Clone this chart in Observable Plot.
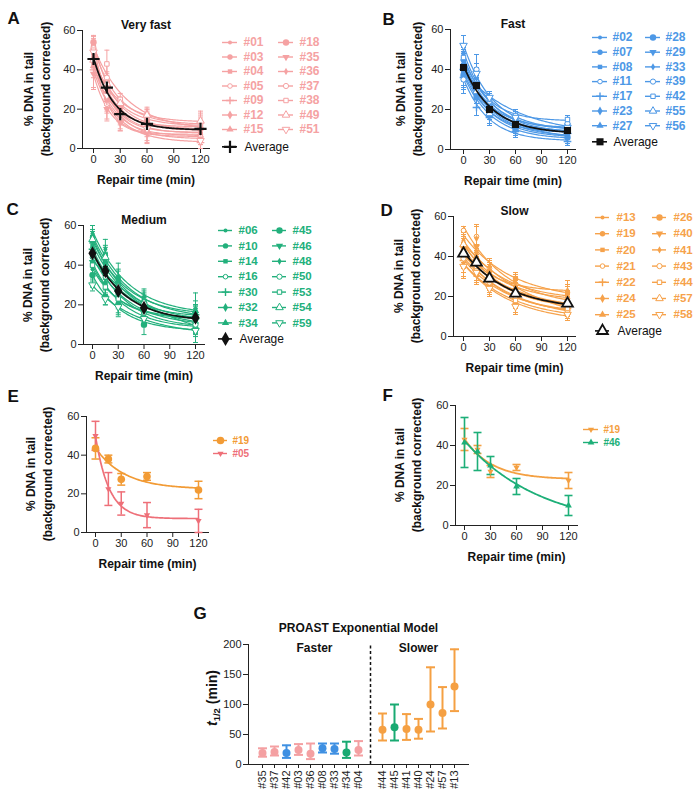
<!DOCTYPE html>
<html><head><meta charset="utf-8">
<script src="https://cdn.jsdelivr.net/npm/d3@7"></script>
<script src="https://cdn.jsdelivr.net/npm/@observablehq/plot@0.6"></script>
<style>
body{margin:0;background:#fff;}
#root{position:relative;width:695px;height:795px;background:#fff;font-family:"Liberation Sans",Arial,sans-serif;overflow:hidden;}
#root svg{position:absolute;}
.ylab{position:absolute;transform:translate(-50%,-50%) rotate(-90deg);font:bold 12px "Liberation Sans",Arial,sans-serif;color:#111;white-space:nowrap;text-align:center;line-height:16.5px;}
</style></head><body><div id="root"></div>
<script>
// ---------------- DATA ----------------
const timesMin = [0, 15, 30, 60, 120];

// A: Very fast
const aIds = ["#01","#03","#04","#05","#09","#12","#15","#18","#35","#36","#37","#38","#49","#51"];
const aMeans = [[48,30,20,13,9],[52,28,18,12,7],[44,25,16,10,6],[50,22.5,15,9,6],[40,24,14,8,3],[46,32,22,15,12],[42,26,19,13,11],
  [54,34,21,14,10],[38,20,13,9,5],[47,29,18,11,8],[51,36,24,16,13],[50,43,25,17,12],[45,33,23,17,14],[49,27,17,10,4]];
const aErrs = [[5,4,4,3,4],[4,6,3,4,3],[6,5,4,3,4],[7.5,8.5,6,6.5,6],[9,6,4,5,3],[5,5,4,4,5],[6,7,5,3,4],
  [3,5,3,4,4],[8,5,4,5,3],[5,4,3,3,4],[4,7,2,4,5],[5,7,3,3,4],[4,5,3,4,5],[5,5,4,4,4]];
const aAvg = [45.5,31,17.5,12.5,10];
const aAvgErr = [0,0,0,0,0];

// B: Fast
const bIds = ["#02","#07","#08","#11","#17","#23","#27","#28","#29","#33","#39","#42","#55","#56"];
const bMeans = [[43,30,21,13,9],[38,28,18,11,7],[45,35,22,15,11],[40,34,20,12,8],[36,21,16,9,4],[48,36,23,14,10],[42,32,20,13,10],
  [37,26,17,10,6],[44,33,21,14,12],[39,31,19,11,8],[35,40,24,16,13],[46,33,25,17,15],[41,29,18,12,9],[52,38,26,16,11]];
const bErrs = [[5,4,3,3,3],[4,5,3,4,3],[6,4,4,3,4],[8,6,3,4,3],[8,4,4,3,2],[5,5,3,3,4],[4,4,3,4,3],
  [6,5,4,4,3],[5,4,3,3,4],[4,5,4,3,3],[5,7.5,4,4,4],[4,5,3,3,2],[6,4,3,4,3],[5,5,3,3,3]];
const bAvg = [41,32,20,12.5,9.5];
const bAvgErr = [0,0,0,0,0];

// C: Medium
const cIds = ["#06","#10","#14","#16","#30","#32","#34","#45","#46","#48","#50","#53","#54","#59"];
const cMeans = [[38,30,22,17,14],[54,45,33,22,16],[50,40,30,19,12],[44,34,25,18,11],[48,38,27,20,15],[41,31,21,15,9],[52,42,32,22,17],
  [35,24,20,10,8],[41.5,37,30,19.5,10],[56,48,34,24,18],[46,36,24,16,10],[40,29,23,17,13],[53,44,29,21,14],[30,23,19,13,7]];
const cErrs = [[6,5,4,4,5],[6,5,5,4,4],[5,6,4,5,5],[5,4,5,4,4],[7,5,4,4,5],[5,6,5,4,4],[5,4,5,5,5],
  [6,4,6,5,4],[12.5,9.5,4.5,4,4.5],[4,5,7,4,8],[6,5,4,4,4],[5,4,4,4,5],[5,5,5,4,6],[3,3,4,3,6]];
const cAvg = [46,37,27,18.5,13.5];
const cAvgErr = [0,2.2,0,0,0];

// D: Slow
const dIds = ["#13","#19","#20","#21","#22","#24","#25","#26","#40","#41","#43","#44","#57","#58"];
const dMeans = [[45,40,31,24,20],[43.5,38,27.5,29,22],[40,36,30,22,17],[53,50,34,26,19],[38,33,26,19,14],[47,42,33,25,21],[36,31,25,17,12],
  [42,37,29,21,16],[44,45,32,23,15],[48,49,35,27,23],[39,34,27,20,13],[41,35,28,18,14],[46,39,30,22,17],[35,32,24,15,11]];
const dErrs = [[5,4,4,4,5],[5.5,2,3,2,4],[4,5,4,5,4],[2,6,4,4,4],[6,5,4,5,4],[5,4,4,5,5],[6,5,4,5,3],
  [4,5,4,4,4],[5,5,4,5,4],[5,6,4,5,5],[5,4,4,4,4],[4,4,3,4,3],[5,5,4,4,4],[6,5,4,4,3]];
const dAvg = [41.5,37,29,21.5,16.5];
const dAvgErr = [0,0,0,0,0];

// E
const e19Means = [43.5,38,27.5,29,22];
const e19Errs  = [5.5,2,3,2,4.5];
const e05Means = [50,22.5,15,9,6];
const e05Errs  = [7.5,8.5,6,6.5,6];
// F
const f19Means = [43,38,27,29,22.5];
const f19Errs  = [5.5,2,3,1.5,4];
const f46Means = [41.5,37,30,19.5,10];
const f46Errs  = [12.5,9.5,4.5,4,5];

// G: PROAST half-lives
const gIds   = ["#35","#37","#42","#03","#36","#08","#33","#34","#04","#44","#45","#41","#40","#24","#57","#13"];
const gHalf  = [19,21,19,24,18,27,26,20,24,58,62,59,58,100,86,130];
const gLow   = [13,15,11,16,9,20,18,11,15,40,40,41,43,55,60,89];
const gHigh  = [27,30,32,34,35,35,35,38,39,85,100,84,76,162,129,192];
const gGroup = ["Very fast","Very fast","Fast","Very fast","Very fast","Fast","Fast","Medium","Very fast","Slow","Medium","Slow","Slow","Slow","Slow","Slow"];
const gFasterCount = 9;

// ---------------- STYLE ----------------
const FONT = '"Liberation Sans", Arial, sans-serif';
const PINK = "#f5a2a3", BLUE = "#4d98e6", GREEN = "#22b07c", ORANGE = "#f6a24b";
const groupColor = {"Very fast": "#f4a0a2", "Fast": "#3f90e2", "Medium": "#19aa72", "Slow": "#f5a043"};
const symbolCycle = [
  {symbol:"circle", r:2}, {symbol:"circle", r:2.7}, {symbol:"square", r:2.5}, {symbol:"circle", r:2.3, open:true},
  {symbol:"plus", r:2.6}, {symbol:"diamond", r:2.7}, {symbol:"triangle", r:2.7}, {symbol:"circle", r:3.2},
  {symbol:"triangle", r:2.7, rotate:180}, {symbol:"diamond", r:2.2}, {symbol:"circle", r:2.6, open:true},
  {symbol:"square", r:2.5, open:true}, {symbol:"triangle", r:2.8, open:true}, {symbol:"triangle", r:2.8, open:true, rotate:180}
];
const capSymbol = {draw(ctx, size){ const h = Math.sqrt(size / Math.PI); ctx.moveTo(-h, 0); ctx.lineTo(h, 0); }};

const root = document.getElementById("root");
function place(svg, left, top){ svg.style.left = left + "px"; svg.style.top = top + "px"; svg.style.background = "transparent"; root.appendChild(svg); }

// one-phase exponential decay fit (least squares, grid over rate)
function fitDecay(ys){
  let best = null;
  for (let i = 0; i <= 600; i++){
    const k = Math.exp(Math.log(0.002) + (Math.log(0.5) - Math.log(0.002)) * i / 600);
    const xs = timesMin.map(t => Math.exp(-k * t));
    const mx = d3.mean(xs), my = d3.mean(ys);
    let sxy = 0, sxx = 0;
    xs.forEach((x, j) => { sxy += (x - mx) * (ys[j] - my); sxx += (x - mx) ** 2; });
    const A = sxy / sxx, P = my - A * mx;
    const sse = d3.sum(ys, (y, j) => (y - (P + A * xs[j])) ** 2);
    if (!best || sse < best.sse) best = {k, A, P, sse};
  }
  return best;
}
function fitCurve(ys){ const f = fitDecay(ys); return d3.range(0, 120.01, 1.5).map(t => ({t, y: f.P + f.A * Math.exp(-f.k * t)})); }

function dotMark(data, spec, color, x, y){
  const strokeOnly = spec.symbol === "plus";
  return Plot.dot(data, {x, y, symbol: spec.symbol, r: spec.r,
    fill: strokeOnly ? "none" : (spec.open ? "white" : color),
    stroke: (spec.open || strokeOnly || spec.sw) ? color : "none",
    strokeWidth: spec.sw ?? (strokeOnly ? 1.4 : 1), rotate: spec.rotate ?? 0});
}

function errorMarks(s, w, capR){
  const pts = timesMin.map((t, j) => ({t, lo: s.means[j] - s.errs[j], hi: s.means[j] + s.errs[j]})).filter(d => d.hi > d.lo);
  const caps = pts.flatMap(d => [{t: d.t, v: d.lo}, {t: d.t, v: d.hi}]);
  return [Plot.ruleX(pts, {x: "t", y1: "lo", y2: "hi", stroke: s.color, strokeWidth: w}),
          Plot.dot(caps, {x: "t", y: "v", symbol: capSymbol, r: capR, fill: "none", stroke: s.color, strokeWidth: w})];
}

function yLabel(cx, cy){
  const d = document.createElement("div");
  d.className = "ylab";
  d.innerHTML = "% DNA in tail<br>(background corrected)";
  d.style.left = cx + "px"; d.style.top = cy + "px";
  root.appendChild(d);
}

function decayPanel(p){
  const mL = 82, mT = 30, mB = 48, mR = 12, b = p.box;
  const W = b.right - b.left + mL + mR, H = b.bottom - b.top + mT + mB;
  const sc = (b.t120 - b.t0) / 120;
  const xd = [-(b.t0 - b.left) / sc, 120 + (b.right - b.t120) / sc];
  const marks = [];
  for (const s of p.series) marks.push(...errorMarks(s, p.errW, p.capR));
  for (const s of p.series) marks.push(Plot.line(fitCurve(s.means), {x: "t", y: "y", stroke: s.color, strokeWidth: p.lineW}));
  for (const s of p.series) marks.push(dotMark(timesMin.map((t, j) => ({t, m: s.means[j]})), s.spec, s.color, "t", "m"));
  if (p.avg){
    marks.push(...errorMarks(p.avg, 1.3, 2.5));
    marks.push(Plot.line(fitCurve(p.avg.means), {x: "t", y: "y", stroke: "#111", strokeWidth: 1.7}));
    marks.push(dotMark(timesMin.map((t, j) => ({t, m: p.avg.means[j]})), p.avg.spec, "#111", "t", "m"));
  }
  marks.push(Plot.text([p.letter], {text: d => d, frameAnchor: "top-left", dx: p.letterPos[0] - b.left, dy: p.letterPos[1] - b.top, textAnchor: "start", fontSize: 17, fontWeight: "bold", fill: "#111"}));
  if (p.title) marks.push(Plot.text([p.title], {text: d => d, frameAnchor: "top", dy: -10, fontSize: 12, fontWeight: "bold", fill: "#111"}));
  marks.push(Plot.text(["Repair time (min)"], {text: d => d, frameAnchor: "bottom", dy: 35, fontSize: 12, fontWeight: "bold", fill: "#111"}));
  const svg = Plot.plot({
    width: W, height: H, marginLeft: mL, marginRight: mR, marginTop: mT, marginBottom: mB,
    style: {background: "transparent", fontFamily: FONT, fontSize: "11px", color: "#222", overflow: "visible"},
    x: {domain: xd, ticks: [0, 30, 60, 90, 120], tickSize: 5, tickPadding: 2, line: true, label: null},
    y: {domain: [0, 60], ticks: [0, 20, 40, 60], tickSize: 5, tickPadding: 2, line: true, label: null},
    marks
  });
  place(svg, b.left - mL, b.top - mT);
  yLabel(p.yLabX, (b.top + b.bottom) / 2);
}

function legend(p){
  const pad = 8;
  const rows = p.rowsPerCol;
  const items = p.series.map((s, i) => ({label: s.id, color: s.color, spec: s.spec,
    x: pad + Math.floor(i / rows) * p.colDX, y: pad + (i % rows) * p.rowDY}));
  const W = p.colDX * (p.series.length > rows ? 2 : 1) + 50;
  const H = (p.avg ? p.avgY - p.y0 : (rows - 1) * p.rowDY) + 2 * pad;
  const marks = [];
  marks.push(Plot.ruleY(items, {y: "y", x1: "x", x2: d => d.x + p.lineLen, stroke: "color", strokeWidth: 1.4}));
  for (const it of items) marks.push(dotMark([it], it.spec, it.color, d => d.x + p.lineLen / 2, "y"));
  marks.push(Plot.text(items, {x: d => d.x + p.textOff, y: "y", text: "label", fill: "color", textAnchor: "start", fontWeight: "bold", fontSize: p.fontSize}));
  if (p.avg){
    const a = [{x: pad, y: pad + p.avgY - p.y0, label: "Average"}];
    marks.push(Plot.ruleY(a, {y: "y", x1: "x", x2: d => d.x + p.lineLen, stroke: "#111", strokeWidth: 1.6}));
    marks.push(dotMark(a, p.avg.spec, "#111", d => d.x + p.lineLen / 2, "y"));
    marks.push(Plot.text(a, {x: d => d.x + p.textOff + 1, y: "y", text: "label", fill: "#111", textAnchor: "start", fontSize: 12}));
  }
  const svg = Plot.plot({
    width: W, height: H, margin: 0,
    style: {background: "transparent", fontFamily: FONT, overflow: "visible"},
    x: {domain: [0, W], range: [0, W], axis: null},
    y: {domain: [0, H], range: [0, H], axis: null},
    color: {type: "identity"},
    marks
  });
  place(svg, p.x0 - pad, p.y0 - pad);
}

function groupSeries(ids, means, errs, color){
  return ids.map((id, i) => ({id, means: means[i], errs: errs[i], color, spec: symbolCycle[i]}));
}

// ---------------- PANELS A-D ----------------
const panels = [
  {letter: "A", title: "Very fast", series: groupSeries(aIds, aMeans, aErrs, PINK),
   avg: {means: aAvg, errs: aAvgErr, color: "#111", spec: {symbol: "plus", r: 4, sw: 2.2}},
   box: {left: 82, right: 209, t0: 93, t120: 200, top: 30, bottom: 148}, letterPos: [7, 11], yLabX: 36.5,
   leg: {x0: 222, y0: 41.7, colDX: 56, rowDY: 14.5, avgY: 146, textOff: 21, lineLen: 15, fontSize: 12}},
  {letter: "B", title: "Fast", series: groupSeries(bIds, bMeans, bErrs, BLUE),
   avg: {means: bAvg, errs: bAvgErr, color: "#111", spec: {symbol: "square", r: 4}},
   box: {left: 450, right: 575, t0: 463, t120: 567, top: 29, bottom: 149}, letterPos: [382, 12.5], yLabX: 409,
   leg: {x0: 592, y0: 36.7, colDX: 53, rowDY: 14.7, avgY: 141, textOff: 20, lineLen: 15, fontSize: 12}},
  {letter: "C", title: "Medium", series: groupSeries(cIds, cMeans, cErrs, GREEN),
   avg: {means: cAvg, errs: cAvgErr, color: "#111", spec: {symbol: "diamond", r: 4.3}},
   box: {left: 83, right: 204, t0: 92, t120: 195, top: 225, bottom: 344}, letterPos: [6, 202.5], yLabX: 36,
   leg: {x0: 218, y0: 230.3, colDX: 54, rowDY: 15.4, avgY: 338.7, textOff: 20, lineLen: 14, fontSize: 11.5}},
  {letter: "D", title: "Slow", series: groupSeries(dIds, dMeans, dErrs, ORANGE),
   avg: {means: dAvg, errs: dAvgErr, color: "#111", spec: {symbol: "triangle", r: 4, open: true, sw: 1.8}},
   box: {left: 453, right: 575, t0: 463, t120: 567, top: 216, bottom: 336}, letterPos: [380, 203], yLabX: 407,
   leg: {x0: 595, y0: 217.3, colDX: 57, rowDY: 16.2, avgY: 330.7, textOff: 21, lineLen: 14, fontSize: 11.5}}
];
for (const p of panels){
  decayPanel({...p, errW: 1, lineW: 1.2, capR: 2.5});
  legend({...p.leg, series: p.series, avg: p.avg, rowsPerCol: 7});
}

// ---------------- PANELS E, F ----------------
const eSeries = [
  {id: "#19", means: e19Means, errs: e19Errs, color: "#f29b35", spec: {symbol: "circle", r: 3.8}},
  {id: "#05", means: e05Means, errs: e05Errs, color: "#ee6f78", spec: {symbol: "triangle", r: 2.3, rotate: 180}}
];
decayPanel({letter: "E", series: eSeries, box: {left: 86, right: 208, t0: 95, t120: 198, top: 416, bottom: 532},
  letterPos: [7, 389], yLabX: 38.5, errW: 1.5, lineW: 1.7, capR: 4});
legend({series: eSeries, x0: 213, y0: 440, colDX: 40, rowDY: 13, textOff: 19, lineLen: 14, fontSize: 10, rowsPerCol: 7});

const fSeries = [
  {id: "#19", means: f19Means, errs: f19Errs, color: "#f4a042", spec: {symbol: "triangle", r: 2.3, rotate: 180}},
  {id: "#46", means: f46Means, errs: f46Errs, color: "#1daf78", spec: {symbol: "triangle", r: 2.5}}
];
decayPanel({letter: "F", series: fSeries, box: {left: 455, right: 577, t0: 464, t120: 568, top: 405, bottom: 525},
  letterPos: [382, 388.5], yLabX: 407.5, errW: 1.6, lineW: 1.8, capR: 4});
legend({series: fSeries, x0: 583, y0: 429, colDX: 40, rowDY: 13, textOff: 20, lineLen: 15, fontSize: 10, rowsPerCol: 7});

// ---------------- PANEL G ----------------
(function(){
  const box = {left: 248, right: 468, top: 644, bottom: 764};
  const mL = 62, mT = 48, mB = 31, mR = 20;
  const W = box.right - box.left + mL + mR, H = box.bottom - box.top + mT + mB;
  const sep = "sep";
  const domain = [...gIds.slice(0, gFasterCount), sep, ...gIds.slice(gFasterCount)];
  const data = gIds.map((id, i) => ({id, v: gHalf[i], lo: gLow[i], hi: gHigh[i], color: groupColor[gGroup[i]]}));
  const caps = data.flatMap(d => [{id: d.id, v: d.lo, color: d.color}, {id: d.id, v: d.hi, color: d.color}]);
  const svg = Plot.plot({
    width: W, height: H, marginLeft: mL, marginRight: mR, marginTop: mT, marginBottom: mB,
    style: {background: "transparent", fontFamily: FONT, fontSize: "11px", color: "#222", overflow: "visible"},
    x: {type: "point", domain, padding: 0.89, ticks: gIds, tickRotate: -90, tickSize: 4, tickPadding: 2, line: true, label: null},
    y: {domain: [0, 200], ticks: [0, 50, 100, 150, 200], tickSize: 5, tickPadding: 2, line: true, label: null},
    color: {type: "identity"},
    marks: [
      Plot.ruleX([sep], {x: d => d, y1: 0, y2: 200, stroke: "#111", strokeWidth: 1.5, strokeDasharray: "3,2.5"}),
      Plot.ruleX(data, {x: "id", y1: "lo", y2: "hi", stroke: "color", strokeWidth: 2}),
      Plot.dot(caps, {x: "id", y: "v", symbol: capSymbol, r: 4.5, fill: "none", stroke: "color", strokeWidth: 2}),
      Plot.dot(data, {x: "id", y: "v", r: 4, fill: "color", stroke: "none"}),
      Plot.text(["Faster"], {text: d => d, x: () => "#36", y: () => 200, dx: 4, dy: 4, fontSize: 12, fontWeight: "bold", fill: "#111"}),
      Plot.text(["Slower"], {text: d => d, x: () => "#40", y: () => 200, dy: 4, fontSize: 12, fontWeight: "bold", fill: "#111"}),
      Plot.text(["PROAST Exponential Model"], {text: d => d, frameAnchor: "top", dy: -21, fontSize: 12, fontWeight: "bold", fill: "#111"}),
      Plot.text(["G"], {text: d => d, frameAnchor: "top-left", dx: 193 - box.left, dy: 606.5 - box.top, textAnchor: "start", fontSize: 17, fontWeight: "bold", fill: "#111"})
    ]
  });
  place(svg, box.left - mL, box.top - mT);
  const yl = document.createElement("div");
  yl.innerHTML = '<i>t</i><sub style="font-size:9.5px;vertical-align:-3px">1/2</sub> (min)';
  Object.assign(yl.style, {position: "absolute", left: "213px", top: "698px", transform: "translate(-50%,-50%) rotate(-90deg)",
    font: 'bold 14px "Liberation Sans", Arial, sans-serif', color: "#111", whiteSpace: "nowrap", lineHeight: "1"});
  root.appendChild(yl);
})();
</script></body></html>
